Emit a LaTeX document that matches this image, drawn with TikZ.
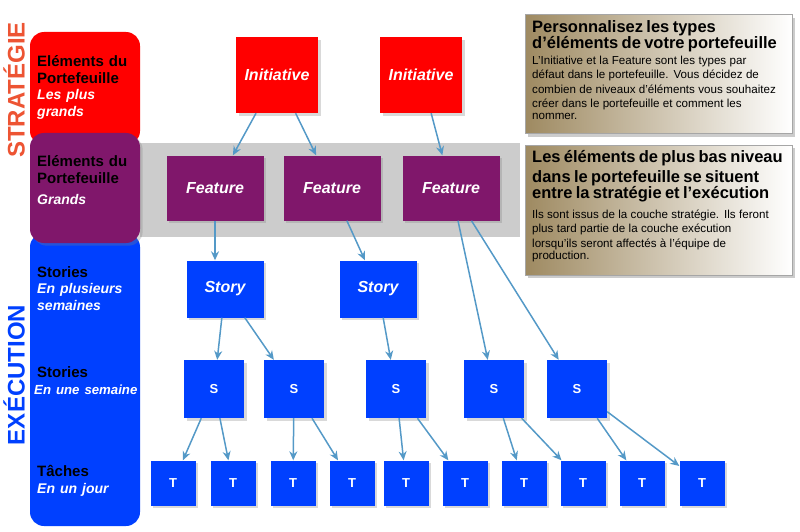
\documentclass[tikz,border=0pt]{standalone}
\usepackage{fontspec}
\setmainfont{Liberation Sans}
\usetikzlibrary{arrows.meta,shadows}
\definecolor{initred}{rgb}{1.0, 0.0, 0.0}
\definecolor{featpurple}{rgb}{0.50, 0.09, 0.42}
\definecolor{storyblue}{rgb}{0.0, 0.25, 1.0}
\definecolor{linkblue}{rgb}{0.33, 0.60, 0.78}
\definecolor{notegold}{rgb}{0.62, 0.54, 0.38}
\definecolor{bandgray}{rgb}{0.80, 0.80, 0.80}
\definecolor{stratorange}{rgb}{0.93, 0.33, 0.20}
\newcommand{\fsz}[1]{\fontsize{#1}{1.15\dimexpr#1pt\relax}\selectfont}

\begin{document}
\begin{tikzpicture}[x=1pt, y=-1pt,
    item/.style={draw=none, minimum width=#1, text=white, font=\bfseries\itshape\fsz{16}, drop shadow={opacity=0.3}},
    initbox/.style={item=82pt, fill=initred, minimum height=76pt},
    featbox/.style={item=97pt, fill=featpurple, minimum height=65pt},
    storybox/.style={item=77pt, fill=storyblue, minimum height=57pt},
    sbox/.style={item=60pt, fill=storyblue, minimum height=58pt, font=\bfseries\fsz{13}},
    tbox/.style={item=45pt, fill=storyblue, minimum height=45pt, font=\bfseries\fsz{13}},
    link/.style={draw=linkblue, line width=1.5pt, -{Stealth[length=9pt,width=8pt]}},
    side/.style={rounded corners=14pt, draw=none},
    sidetext/.style={anchor=north west, align=left, font=\bfseries\fsz{15}, text width=110pt, inner sep=0pt},
    note/.style={draw=gray!70, line width=1pt, left color=notegold, right color=white, drop shadow={opacity=0.4}}]
  \useasboundingbox (0,0) rectangle (800,532);

  % Layers
  \fill[bandgray] (140,143) rectangle (520,237);
  \fill[side, storyblue] (30,233) rectangle (140,526);
  \fill[side, initred] (30,32) rectangle (140,145);
  \fill[side, featpurple, drop shadow={opacity=0.3}] (30,133) rectangle (140,243);

  \node[rotate=90, text=stratorange, font=\bfseries\fsz{24}] (strat) at (14,90) {STRATÉGIE};
  \node[rotate=90, text=storyblue, font=\bfseries\fsz{24}] (exec) at (14,375) {EXÉCUTION};

  \node[sidetext] (l1) at (37,55) {Eléments du\\Portefeuille\\{\color{white}\itshape\fsz{14}Les plus\\grands}};
  \node[sidetext] (l2) at (37,155) {Eléments du\\Portefeuille\\[4pt]{\color{white}\itshape\fsz{14}Grands}};
  \node[sidetext] (l3) at (37,266) {Stories\\{\color{white}\itshape\fsz{14}En plusieurs\\semaines}};
  \node[sidetext] (l4) at (34,366) {\hspace*{3pt}Stories\\{\color{white}\itshape\fsz{13.2}En une semaine}};
  \node[sidetext] (l5) at (37,465) {Tâches\\{\color{white}\itshape\fsz{14}En un jour}};

  % Initiatives
  \node[initbox] (i1) at (277,75) {Initiative};
  \node[initbox] (i2) at (421,75) {Initiative};

  % Features
  \node[featbox] (f1) at (215,188) {Feature};
  \node[featbox] (f2) at (332,188) {Feature};
  \node[featbox] (f3) at (451,188) {Feature};

  % Stories
  \node[storybox] (st1) at (225,289) {Story};
  \node[storybox] (st2) at (378,289) {Story};

  % Small stories
  \foreach \n/\x in {1/214, 2/294, 3/396, 4/494, 5/577}
    \node[sbox] (s\n) at (\x,389) {S};

  % Tasks
  \foreach \n/\x in {1/173, 2/233, 3/293, 4/352, 5/406, 6/465, 7/524, 8/583, 9/642, 10/702}
    \node[tbox] (t\n) at (\x,483) {T};

  % Links
  \draw[link] (i1) -- (f1);
  \draw[link] (i1) -- (f2);
  \draw[link] (i2) -- (f3);
  \draw[link] (f1.south) -- (st1.north -| f1.south);
  \draw[link] (f2) -- (st2);
  \draw[link] (f3) -- (s4);
  \draw[link] (f3) -- (s5);
  \draw[link] (st1) -- (s1);
  \draw[link] (st1) -- (s2);
  \draw[link] (st2) -- (s3);
  \foreach \s/\a/\b in {1/1/2, 2/3/4, 3/5/6, 4/7/8, 5/9/10} {
    \draw[link] (s\s) -- (t\a);
    \draw[link] (s\s) -- (t\b);
  }

  % Notes
  \node[note, minimum width=267pt, minimum height=119pt] (n1) at (658.5,74.5) {};
  \node[anchor=north west, align=left, inner sep=0pt, text width=262pt] (n1t) at (532,20)
    {{\bfseries\fsz{16.5}Personnalisez les types\\d'éléments de votre portefeuille}\\[1pt]
     {\fontsize{11.6}{14.5}\selectfont L'Initiative et la Feature sont les types par\\défaut dans le portefeuille. Vous décidez de\\combien de niveaux d'éléments vous souhaitez\\créer dans le portefeuille et comment les\\nommer.}};
  \node[note, minimum width=267pt, minimum height=130pt] (n2) at (658.5,210) {};
  \node[anchor=north west, align=left, inner sep=0pt, text width=262pt] (n2t) at (532,150)
    {{\bfseries\fontsize{16.5}{20}\selectfont Les éléments de plus bas niveau\\dans le portefeuille se situent\\entre la stratégie et l'exécution}\\[5pt]
     {\fontsize{11.6}{14.5}\selectfont Ils sont issus de la couche stratégie. Ils feront\\plus tard partie de la couche exécution\\lorsqu'ils seront affectés à l'équipe de\\production.}};
\end{tikzpicture}
\end{document}
